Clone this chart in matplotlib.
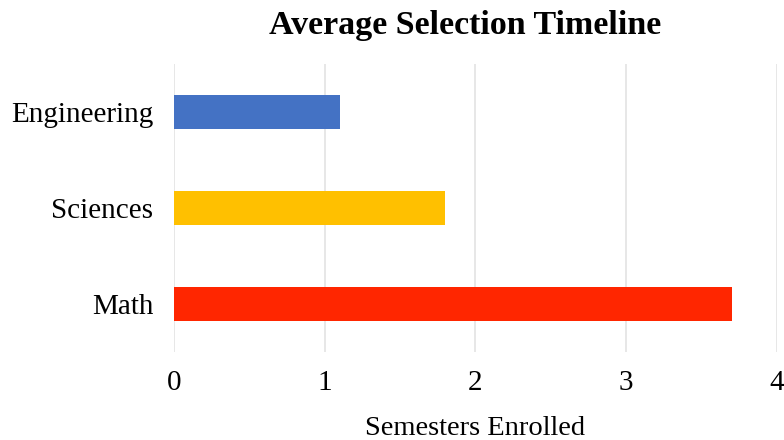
import matplotlib
matplotlib.use("Agg")
import matplotlib.pyplot as plt

categories = ["Engineering", "Sciences", "Math"]
semesters = [1.1, 1.8, 3.7]
colors = ["#4472C4", "#FFC000", "#FF2600"]

plt.rcParams["font.family"] = ["Liberation Serif", "DejaVu Serif"]

fig = plt.figure(figsize=(7.84, 4.4), dpi=100)
ax = fig.add_axes([0.222, 0.2, 0.769, 0.6545])

pos = list(range(len(categories)))[::-1]
ax.barh(pos, semesters, height=0.36, color=colors, zorder=3)

ax.set_xlim(0, 4)
ax.set_ylim(-0.5, 2.5)
ax.set_xticks([0, 1, 2, 3, 4])
ax.set_yticks(pos)
ax.set_yticklabels(categories)
ax.grid(axis="x", color="#E3E3E3", lw=1.2, zorder=0)
ax.grid(axis="y", visible=False)
for s in ax.spines.values():
    s.set_visible(False)
ax.tick_params(axis="both", length=0, labelsize=21)
ax.tick_params(axis="x", pad=13)
ax.tick_params(axis="y", pad=15)

ax.set_xlabel("Semesters Enrolled", fontsize=20.5, labelpad=14)
fig.suptitle("Average Selection Timeline", fontsize=24.5, fontweight="bold",
             x=0.593, y=0.978, va="top")

fig.savefig("out.png", dpi=100)
